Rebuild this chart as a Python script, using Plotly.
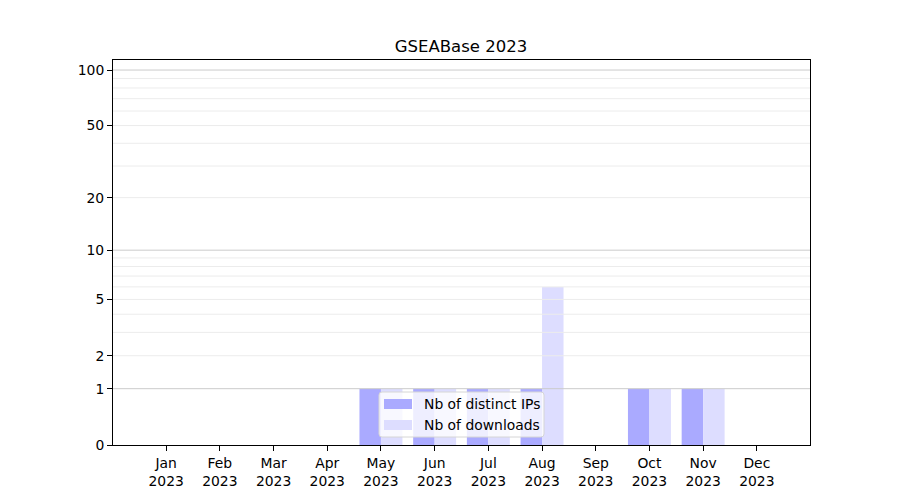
import numpy as np
import plotly.graph_objects as go

months = ["Jan", "Feb", "Mar", "Apr", "May", "Jun", "Jul", "Aug", "Sep", "Oct", "Nov", "Dec"]
year = "2023"
distinct_ips = [0, 0, 0, 0, 1, 1, 1, 1, 0, 1, 1, 0]
downloads = [0, 0, 0, 0, 1, 1, 1, 6, 0, 1, 1, 0]
series_names = ["Nb of distinct IPs", "Nb of downloads"]
series_colors = ["#aaaaff", "#ddddff"]
tick_values = [0, 1, 2, 5, 10, 20, 50, 100]
major_grid = [1, 10, 100]
minor_grid = [2, 3, 4, 5, 6, 7, 8, 9, 20, 30, 40, 50, 60, 70, 80, 90]

def tr(v):
    return np.log10(1 + np.asarray(v, dtype=float))

x = np.arange(len(months))
font = "DejaVu Sans"

# plot area in figure pixels
L, R, T, B = 105, 98, 52, 63
W, H = 900, 500
pw, ph = W - L - R, H - T - B

def px(fx):  # figure px -> paper x
    return (fx - L) / pw

def py(fy):  # figure px -> paper y
    return (H - B - fy) / ph

fig = go.Figure()
for vals, off, name, col in zip([distinct_ips, downloads], [-0.4, 0], series_names, series_colors):
    fig.add_trace(go.Bar(x=x, y=tr(vals), width=0.4, offset=off,
                         marker=dict(color=col, line=dict(width=0)),
                         name=name, showlegend=False))

for v in minor_grid:
    fig.add_shape(type="line", xref="paper", x0=0, x1=1, yref="y", y0=float(tr(v)), y1=float(tr(v)),
                  line=dict(color="#ececec", width=1), layer="above")
for v in major_grid:
    fig.add_shape(type="line", xref="paper", x0=0, x1=1, yref="y", y0=float(tr(v)), y1=float(tr(v)),
                  line=dict(color="#cbcbcb", width=1), layer="above")

# custom legend (matplotlib-like)
bx0, bx1, by0, by1 = 371, 536, 384, 429
r = 3
path = (f"M{px(bx0 + r)},{py(by0)} L{px(bx1 - r)},{py(by0)} Q{px(bx1)},{py(by0)} {px(bx1)},{py(by0 + r)} "
        f"L{px(bx1)},{py(by1 - r)} Q{px(bx1)},{py(by1)} {px(bx1 - r)},{py(by1)} "
        f"L{px(bx0 + r)},{py(by1)} Q{px(bx0)},{py(by1)} {px(bx0)},{py(by1 - r)} "
        f"L{px(bx0)},{py(by0 + r)} Q{px(bx0)},{py(by0)} {px(bx0 + r)},{py(by0)} Z")
fig.add_shape(type="path", xref="paper", yref="paper", path=path,
              fillcolor="rgba(255,255,255,0.8)", line=dict(color="#d6d6d6", width=1), layer="above")
row_y = [396, 417]
for yy, name, col in zip(row_y, series_names, series_colors):
    fig.add_shape(type="rect", xref="paper", yref="paper",
                  x0=px(376), x1=px(404), y0=py(yy - 5), y1=py(yy + 5),
                  fillcolor=col, line=dict(width=0), layer="above")
    fig.add_annotation(xref="paper", yref="paper", x=px(414), y=py(yy), text=name,
                       xanchor="left", yanchor="middle", showarrow=False,
                       font=dict(family=font, size=13.9, color="black"))

fig.update_layout(
    width=W, height=H,
    margin=dict(l=L, r=R, t=T, b=B),
    paper_bgcolor="white", plot_bgcolor="white",
    barmode="overlay",
    title=dict(text="GSEABase 2023", x=(461 - 8) / W, xanchor="center", y=1 - 38 / H, yanchor="middle",
               font=dict(family=font, size=16.5, color="black")),
    font=dict(family=font, size=13.9, color="black"),
    showlegend=False,
    xaxis=dict(range=[-0.99, 11.99], tickmode="array", tickvals=x,
               ticktext=[f"{m}<br>{year}" for m in months],
               showgrid=False, zeroline=False, showline=True, mirror=True,
               linecolor="black", linewidth=1, ticks="outside", ticklen=5, tickcolor="black"),
    yaxis=dict(range=[0, 2.058], tickmode="array", tickvals=tr(tick_values),
               ticktext=[str(t) for t in tick_values],
               showgrid=False, zeroline=False, showline=True, mirror=True,
               linecolor="black", linewidth=1, ticks="outside", ticklen=5, tickcolor="black"),
)

fig.write_html("out.html")
